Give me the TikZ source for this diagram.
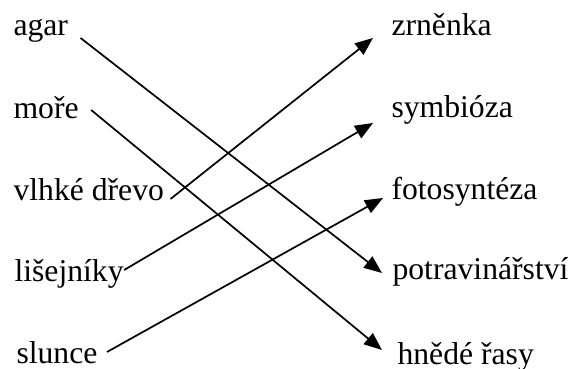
\documentclass[tikz,border=0pt]{standalone}
\usepackage{fontspec}
\setmainfont{Liberation Serif}
\usetikzlibrary{arrows.meta}

\begin{document}
\begin{tikzpicture}[
    x=0.3788pt, y=-0.3788pt,
    word/.style={anchor=base west, inner sep=0pt, font=\fontsize{12}{14}\selectfont},
    line/.style={draw, -{Triangle[length=6.8pt, width=5.4pt]}, line width=0.65pt}
]
\useasboundingbox (0,0) rectangle (571,369);

% Define nodes
\node[word] (agar) at (13,36) {agar};
\node[word] (more) at (13,119) {moře};
\node[word] (drevo) at (13,201) {vlhké dřevo};
\node[word] (lisejniky) at (14,282) {lišejníky};
\node[word] (slunce) at (16,364) {slunce};

\node[word] (zrnenka) at (391,36) {zrněnka};
\node[word] (symbioza) at (391,118) {symbióza};
\node[word] (fotosynteza) at (391,200) {fotosyntéza};
\node[word] (potravinarstvi) at (392,280) {potravinářství};
\node[word] (rasy) at (397,365) {hnědé řasy};

% Connect nodes
\draw [line] ([shift={(12,2)}]agar.base east) -- ([shift={(-10,-7)}]potravinarstvi.base west);
\draw [line] ([shift={(12,-9)}]more.base east) -- ([shift={(-15,-15)}]rasy.base west);
\draw [line] ([shift={(6,-2)}]drevo.base east) -- ([shift={(-18,2)}]zrnenka.base west);
\draw [line] ([shift={(0,-12)}]lisejniky.base east) -- ([shift={(-18,5)}]symbioza.base west);
\draw [line] ([shift={(9,-12)}]slunce.base east) -- ([shift={(-8,-2)}]fotosynteza.base west);

\end{tikzpicture}
\end{document}
